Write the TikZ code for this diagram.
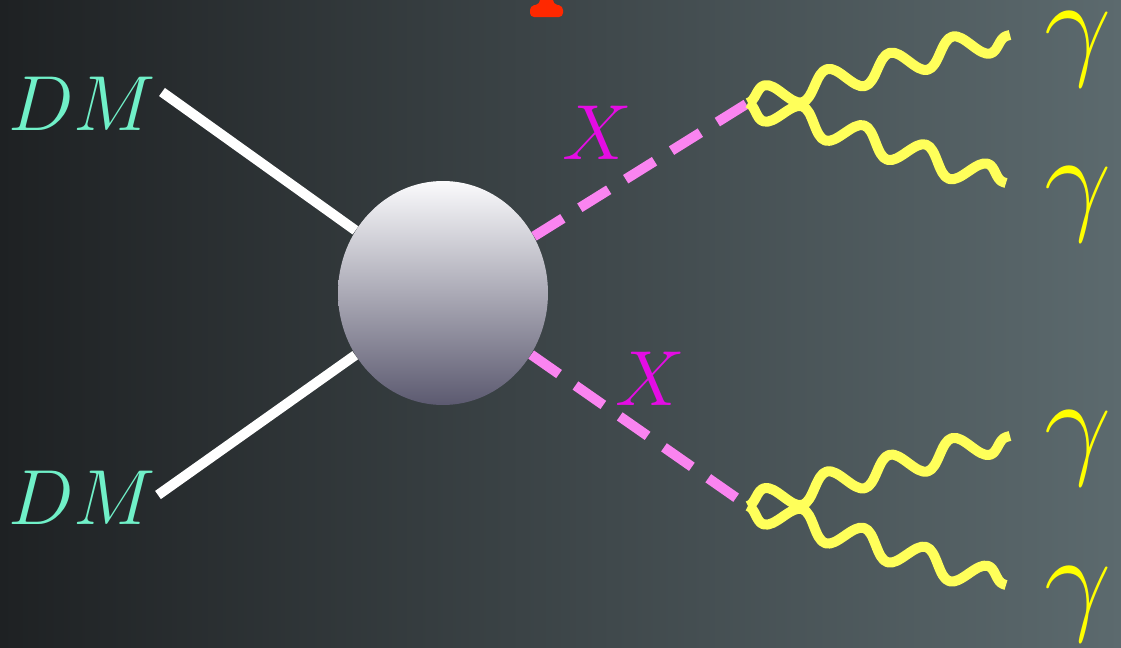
\documentclass[tikz,border=0pt]{standalone}
\usepackage{tikz}
\usetikzlibrary{shapes,decorations.pathmorphing,positioning}
\definecolor{bgleft}{RGB}{30,33,35}
\definecolor{bgright}{RGB}{92,106,110}
\definecolor{dmgreen}{RGB}{112,240,200}
\definecolor{xmagenta}{RGB}{228,12,228}
\definecolor{xpink}{RGB}{250,132,240}
\definecolor{phyellow}{RGB}{255,255,90}
\definecolor{gyellow}{RGB}{255,255,0}
\definecolor{blobtop}{RGB}{250,250,252}
\definecolor{blobbottom}{RGB}{92,90,112}
\definecolor{tred}{RGB}{255,40,0}

\begin{document}
\begin{tikzpicture}[x = .5pt, y = -.5pt,
	dmlabel/.style = {text = dmgreen, font = \Huge, scale = 1.57, inner sep = 0pt},
	xlabel/.style = {text = xmagenta, font = \Huge, scale = 1.57, inner sep = 0pt},
	glabel/.style = {text = gyellow, font = \Huge, scale = 2.4, inner sep = 0pt},
	fermion/.style = {line width = 5pt, white},
	scalar/.style = {line width = 5pt, xpink, dash pattern = on 17pt off 10pt},
	photon/.style = {line width = 5pt, phyellow, line join = round,
		decorate, decoration = {snake, segment length = 32.4pt, amplitude = #1}}]
	% background
	\shade[left color = bgleft, right color = bgright] (0,0) rectangle (1121,648);
	\useasboundingbox (0,0) rectangle (1121,648);
	\fill[tred, rounded corners = 2pt] (540,-4) -- (553,-4) -- (553,4) -- (563,6) -- (563,17) -- (530,17) -- (530,6) -- (540,4) -- cycle;
	\node[dmlabel] (dm1) at (82,104) {$DM$};
	\node[dmlabel] (dm2) at (82,498) {$DM$};
	\coordinate (a1) at (162,92);
	\coordinate (a2) at (158,495);
	\node[ellipse, minimum width = 105pt, minimum height = 112pt, inner sep = 0pt, top color = blobtop, bottom color = blobbottom] (blob) at (443,293) {};
	\draw[fermion] (a1) -- (blob);
	\draw[fermion] (a2) -- (blob);
	\coordinate (v1) at (748,103);
	\coordinate (v2) at (748,506);
	\draw[scalar] (blob) -- (v1);
	\draw[scalar] (blob) -- (v2);
	\node[xlabel] (x1) at (597,133) {$X$};
	\node[xlabel] (x2) at (650,379) {$X$};
	%photons
	\coordinate (p1) at (1010,35);
	\coordinate (p2) at (1006,183);
	\coordinate (p3) at (1010,436);
	\coordinate (p4) at (1006,585);
	\draw[photon = 6.5pt] (v1) -- (p1);
	\draw[photon = -6.5pt] (v1) -- (p2);
	\draw[photon = 6.5pt] (v2) -- (p3);
	\draw[photon = -6.5pt] (v2) -- (p4);
	\node[glabel] (g1) at (1078,49) {$\gamma$};
	\node[glabel] (g2) at (1078,204) {$\gamma$};
	\node[glabel] (g3) at (1078,448) {$\gamma$};
	\node[glabel] (g4) at (1078,604) {$\gamma$};
\end{tikzpicture}
\end{document}
